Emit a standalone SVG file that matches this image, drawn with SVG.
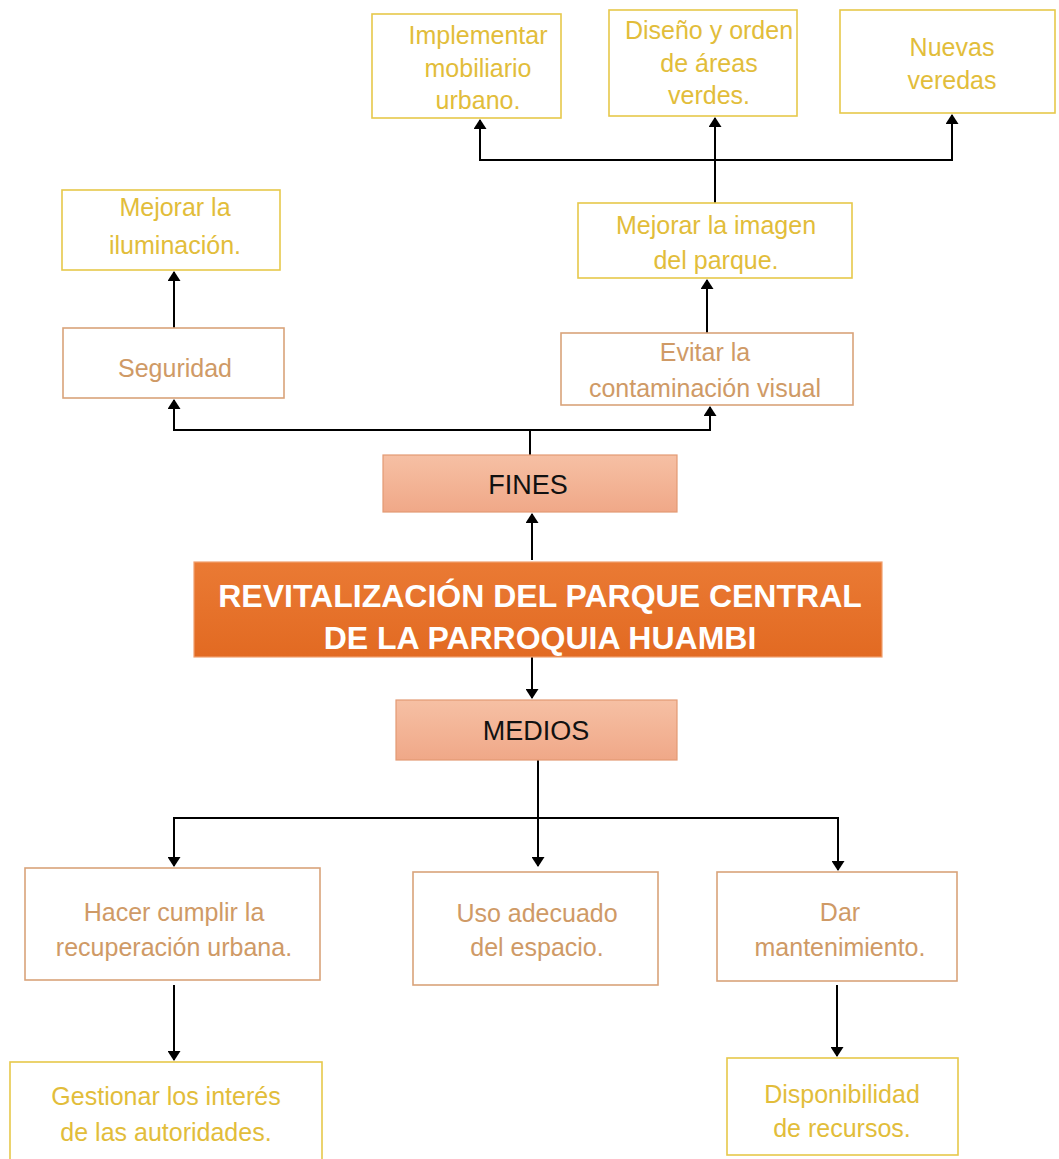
<svg xmlns="http://www.w3.org/2000/svg" width="1059" height="1159" viewBox="0 0 1059 1159">
<style>
text{font-family:"Liberation Sans",Arial,sans-serif;text-anchor:middle}
.y rect{fill:#fff;stroke:#e6c84a;stroke-width:1.6}
.y text{fill:#e2bd3a;font-size:25px}
.o rect{fill:#fff;stroke:#d9a37a;stroke-width:1.6}
.o text{fill:#cf9a66;font-size:25px}
.h rect{fill:url(#gs);stroke:#e39a74;stroke-width:1.2}
.h text{fill:#111;font-size:27px}
.m rect{fill:url(#gm);stroke:#f0a070;stroke-width:1.2}
.m text{fill:#fff;font-size:32px;font-weight:bold}
.c path{fill:none;stroke:#000;stroke-width:2;marker-end:url(#ah)}
.c path.n{marker-end:none}
</style>
<defs>
<marker id="ah" markerWidth="10" markerHeight="13" refX="9" refY="6.5" orient="auto" markerUnits="userSpaceOnUse"><path d="M0,0 L10,6.5 L0,13 Z" fill="#000"/></marker>
<linearGradient id="gs" x1="0" y1="0" x2="0" y2="1"><stop offset="0" stop-color="#f6c0a4"/><stop offset="1" stop-color="#f0a888"/></linearGradient>
<linearGradient id="gm" x1="0" y1="0" x2="0" y2="1"><stop offset="0" stop-color="#ea7a34"/><stop offset="1" stop-color="#e26a22"/></linearGradient>
</defs>
<g class="c" id="connectors">
<path class="n" d="M715,205 V160"/>
<path d="M715,160 H480 V120"/>
<path d="M715,160 V118"/>
<path d="M715,160 H952 V115"/>
<path d="M707,333 V280"/>
<path d="M174,328 V272"/>
<path class="n" d="M530,455 V430"/>
<path d="M530,430 H174 V400"/>
<path d="M530,430 H710 V407"/>
<path d="M532,560 V514"/>
<path d="M532,657 V698"/>
<path class="n" d="M538,760 V818"/>
<path d="M538,818 H174 V866"/>
<path d="M538,818 V866"/>
<path d="M538,818 H838 V870"/>
<path d="M174,985 V1060"/>
<path d="M837,985 V1056"/>
</g>
<g class="y" id="n-implementar"><rect x="372" y="14" width="189" height="104"/><text x="478" y="44">Implementar</text><text x="478" y="77">mobiliario</text><text x="478" y="109">urbano.</text></g>
<g class="y" id="n-diseno"><rect x="609" y="10" width="188" height="106"/><text x="709" y="39">Diseño y orden</text><text x="709" y="72">de áreas</text><text x="709" y="104">verdes.</text></g>
<g class="y" id="n-nuevas"><rect x="840" y="10" width="215" height="103"/><text x="952" y="56">Nuevas</text><text x="952" y="89">veredas</text></g>
<g class="y" id="n-iluminacion"><rect x="62" y="190" width="218" height="80"/><text x="175" y="216">Mejorar la</text><text x="175" y="254">iluminación.</text></g>
<g class="y" id="n-imagen"><rect x="578" y="203" width="274" height="75"/><text x="716" y="234">Mejorar la imagen</text><text x="716" y="269">del parque.</text></g>
<g class="o" id="n-seguridad"><rect x="63" y="328" width="221" height="70"/><text x="175" y="377">Seguridad</text></g>
<g class="o" id="n-evitar"><rect x="561" y="333" width="292" height="72"/><text x="705" y="361">Evitar la</text><text x="705" y="397">contaminación visual</text></g>
<g class="h" id="n-fines"><rect x="383" y="455" width="294" height="57"/><text x="528" y="494">FINES</text></g>
<g class="m" id="n-main"><rect x="194" y="562" width="688" height="95"/><text x="540" y="607">REVITALIZACIÓN DEL PARQUE CENTRAL</text><text x="540" y="649">DE LA PARROQUIA HUAMBI</text></g>
<g class="h" id="n-medios"><rect x="396" y="700" width="281" height="60"/><text x="536" y="740">MEDIOS</text></g>
<g class="o" id="n-hacer"><rect x="25" y="868" width="295" height="112"/><text x="174" y="921">Hacer cumplir la</text><text x="174" y="956">recuperación urbana.</text></g>
<g class="o" id="n-uso"><rect x="413" y="872" width="245" height="113"/><text x="537" y="922">Uso adecuado</text><text x="537" y="956">del espacio.</text></g>
<g class="o" id="n-dar"><rect x="717" y="872" width="240" height="109"/><text x="840" y="921">Dar</text><text x="840" y="956">mantenimiento.</text></g>
<g class="y" id="n-gestionar"><rect x="10" y="1062" width="312" height="100"/><text x="166" y="1105">Gestionar los interés</text><text x="166" y="1141">de las autoridades.</text></g>
<g class="y" id="n-disponibilidad"><rect x="727" y="1058" width="231" height="97"/><text x="842" y="1103">Disponibilidad</text><text x="842" y="1137">de recursos.</text></g>
</svg>
